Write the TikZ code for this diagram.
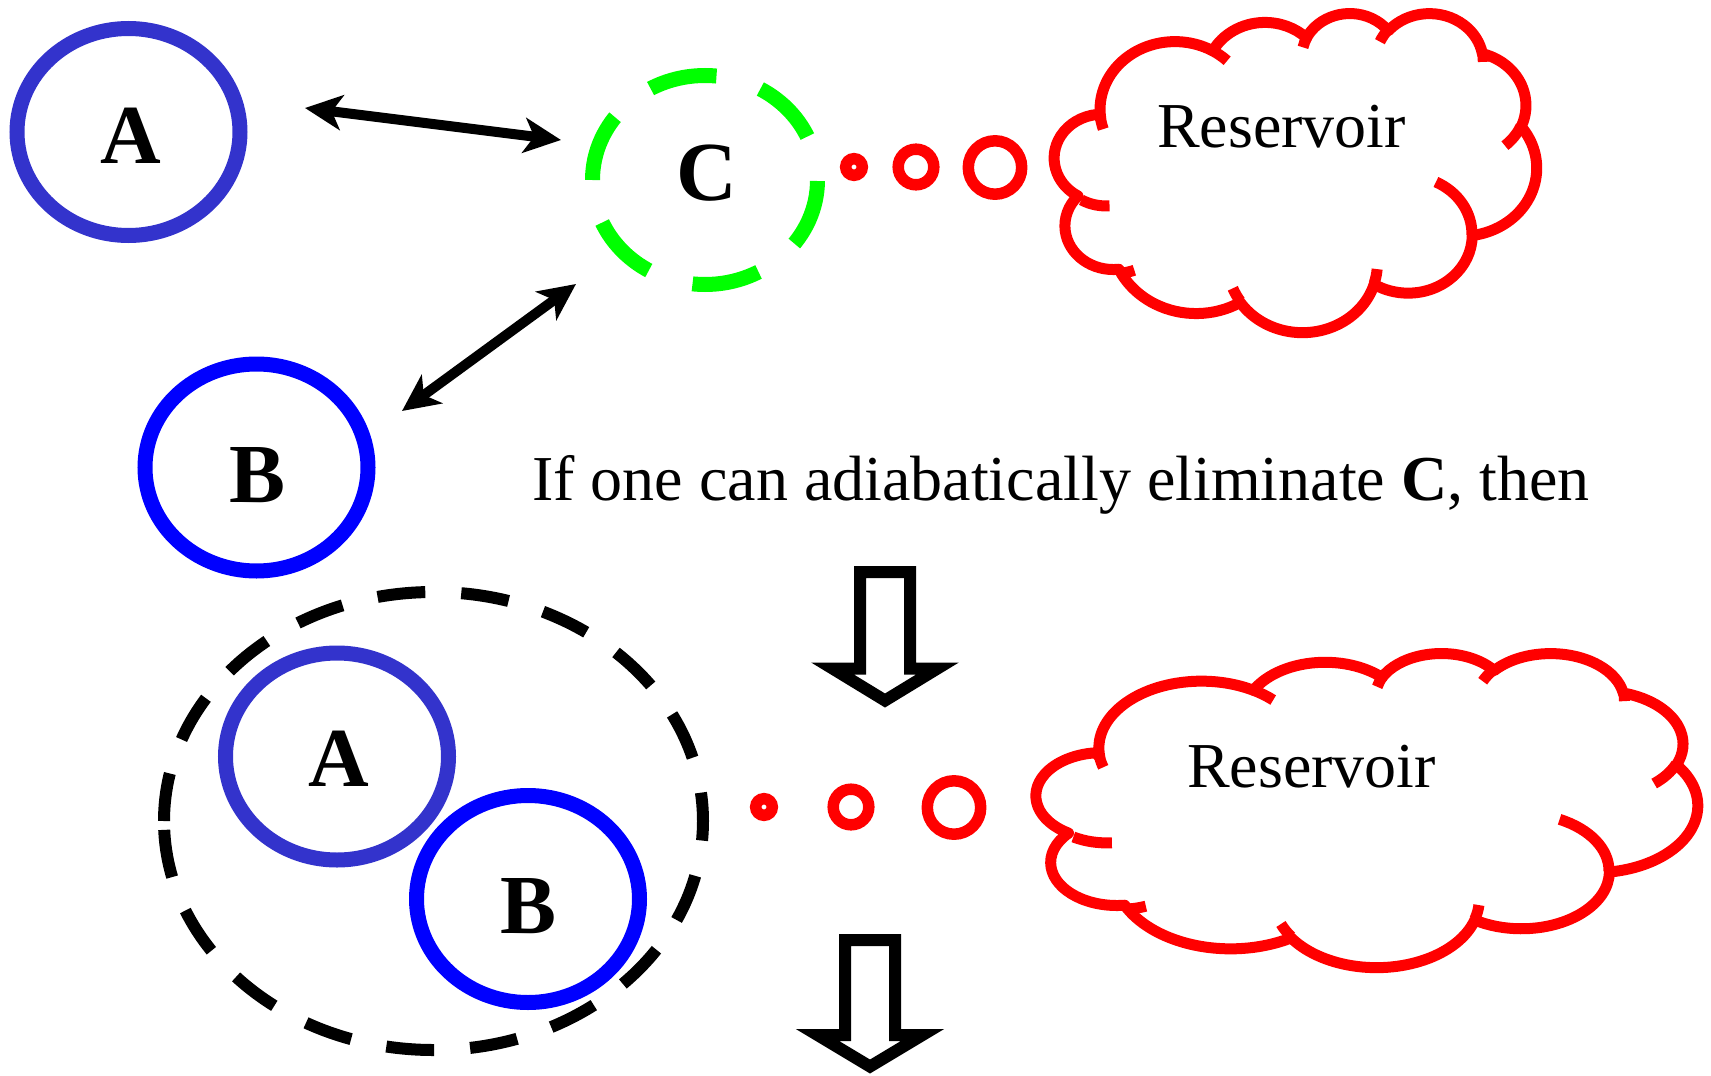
\documentclass[tikz,border=0pt]{standalone}
\usepackage{fontspec}
\setmainfont{Liberation Serif}
\usetikzlibrary{arrows.meta,shapes.geometric}
\makeatletter
\pgfmathdeclarefunction{vtp}{3}{%
  \begingroup
    \pgfmathparse{atan2((#2)*sin(#1),(#3)*cos(#1))-(#1)}%
    \pgfmathparse{(#1)+mod(mod(\pgfmathresult+180,360)+360,360)-180}%
    \pgfmath@smuggleone\pgfmathresult
  \endgroup}
\makeatother
\newcommand\carc[4]{arc[start angle={vtp(#3,#1,#2)}, end angle={vtp(#3+#4,#1,#2)}, x radius=#1, y radius=#2]}
\newcommand\cloudshape{%
  (39.00,143.70)
  \carc{67.53}{91.90}{-190.48748}{123.78053}
  \carc{53.33}{72.67}{-144.10238}{89.94523}
  \carc{43.65}{59.45}{-145.80792}{99.72302}
  \carc{48.57}{65.95}{-130.98607}{117.24173}
  \carc{53.33}{72.73}{-78.70888}{109.02692}
  \carc{67.75}{92.20}{-46.26725}{130.269}
  \carc{57.85}{78.67}{0.62502}{114.03333}
  \carc{67.52}{92.15}{22.4516}{115.17255}
  \carc{77.20}{105.43}{66.24263}{80.6642}
  \carc{43.60}{59.18}{-274.94208}{146.73557}
  \carc{43.45}{59.45}{-246.8285}{152.51885}
  -- cycle}
\newcommand\cloudticks{%
  (46.93,261.77) \carc{43.45}{59.45}{86.742}{26.4295}
  (69.28,348.99) \carc{43.60}{59.18}{73.61047}{11.44747}
  (164.78,390.90) \carc{67.52}{92.15}{137.62415}{14.0811}
  (288.27,347.51) \carc{67.52}{92.15}{6.45327}{15.99835}
  (341.29,229.54) \carc{57.85}{78.67}{-70.29235}{70.91737}
  (417.98,153.54) \carc{53.33}{72.73}{30.31803}{27.7515}
  (383.24,54.26) \carc{48.57}{65.95}{-13.74433}{14.8589}
  (290.78,39.52) \carc{48.57}{65.95}{-149.18145}{18.19537}
  (221.41,47.20) \carc{43.65}{59.45}{-163.49427}{17.68635}
  (140.00,51.92) \carc{67.53}{91.90}{-66.70695}{12.31935}
  (41.27,157.89) \carc{67.53}{91.90}{156.6188}{14.92292}}
\definecolor{colA}{HTML}{3333CC}
\definecolor{colB}{HTML}{0000FF}
\definecolor{colG}{HTML}{00FF00}
\tikzset{
  blobA/.style={ellipse, draw=colA, line width=15pt, minimum width=223pt, minimum height=207pt, inner sep=0pt},
  blobB/.style={ellipse, draw=colB, line width=15pt, minimum width=223pt, minimum height=207pt, inner sep=0pt},
  letter/.style={font=\fontsize{84}{90}\selectfont\bfseries, inner sep=0pt, anchor=base},
  bigtext/.style={font=\fontsize{64}{70}\selectfont, inner sep=0pt, anchor=base west},
  ring/.style={circle, draw=red, line width=11.5pt, inner sep=0pt},
  cloudline/.style={draw=red, line width=11pt, line join=round},
  dbl/.style={line width=10pt, arrows={Stealth[length=37pt,width=35pt,inset=10pt]-Stealth[length=37pt,width=35pt,inset=10pt]}},
  hollow/.style={draw=black, fill=white, line width=12pt, line join=miter},
  greendash/.style={draw=colG, line width=15pt, dash pattern=on 68pt off 46pt},
  blackdash/.style={draw=black, line width=12pt, dash pattern=on 48pt off 36pt}
}
\begin{document}
\begin{tikzpicture}[x=1pt,y=1pt,yscale=-1]
\fill[white] (0,0) rectangle (1711,1076);
\useasboundingbox (0,0) rectangle (1711,1076);
% top part
\node[blobA] (A1) at (128.5,132) {};
\node[letter] (A1t) at (131,163) {A};
\node[blobB] (B1) at (256.5,467.5) {};
\node[letter] (B1t) at (257.5,502) {B};
\node[inner sep=0pt] (C1) at (705,180) {};
\draw[greendash] (C1.center) ++(-112.5,0) arc[start angle=180, delta angle=360, x radius=112.5, y radius=104.5];
\node[letter] (C1t) at (707,200) {C};
\coordinate (pA1) at (305,108);
\coordinate (pC1) at (561,140);
\coordinate (pC2) at (576,284);
\coordinate (pB1) at (402,411);
\draw[dbl] (pA1) -- (pC1);
\draw[dbl] (pC2) -- (pB1);
\node[ring, minimum size=16.6pt] (r1) at (854,167) {};
\node[ring, minimum size=35.6pt] (r2) at (916,167) {};
\node[ring, minimum size=53.4pt] (r3) at (995,167.5) {};
\begin{scope}[shift={(1057.5,12.5)}, xscale=479/432, yscale=319/432]
  \draw[cloudline, fill=white] \cloudshape;
  \draw[cloudline] \cloudticks;
\end{scope}
\node[bigtext] (res1) at (1157,147) {Reservoir};
\node[bigtext] (sent) at (532,500) {If one can adiabatically eliminate {\bfseries C}, then};
\draw[hollow] (860,572) -- (910,572) -- (910,668.5) -- (937.5,668.5) -- (885,700.5) -- (832.5,668.5) -- (860,668.5) -- cycle;
% bottom part
\node[inner sep=0pt] (AB) at (433.5,821) {};
\draw[blackdash] (AB.center) ++(-269.5,0) arc[start angle=180, delta angle=360, x radius=269.5, y radius=229];
\node[blobA] (A2) at (337,756.5) {};
\node[letter] (A2t) at (339,786) {A};
\node[blobB] (B2) at (528,899) {};
\node[letter] (B2t) at (529,933) {B};
\node[ring, minimum size=16.6pt] (s1) at (764,807) {};
\node[ring, minimum size=35.6pt] (s2) at (851,807) {};
\node[ring, minimum size=53.4pt] (s3) at (954,807.5) {};
\begin{scope}[shift={(1040.5,652.5)}, xscale=657/432, yscale=314/432]
  \draw[cloudline, fill=white] \cloudshape;
  \draw[cloudline] \cloudticks;
\end{scope}
\node[bigtext] (res2) at (1187,787) {Reservoir};
\draw[hollow] (845,940) -- (895,940) -- (895,1035) -- (922.5,1035) -- (870,1066.5) -- (817.5,1035) -- (845,1035) -- cycle;
\end{tikzpicture}
\end{document}
